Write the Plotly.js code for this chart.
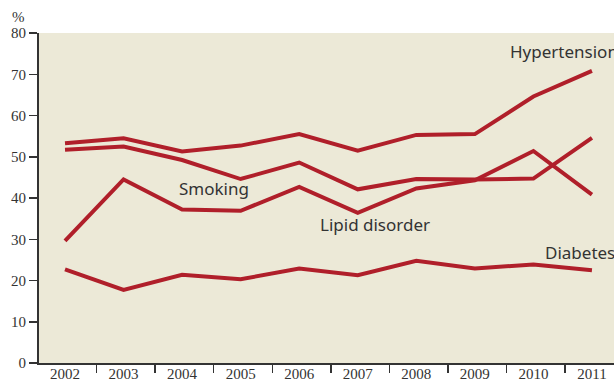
<!DOCTYPE html>
<html>
<head>
<meta charset="utf-8">
<script src="https://cdn.plot.ly/plotly-3.0.1.min.js"></script>
<style>html,body{margin:0;padding:0;background:#fff;}#chart{width:614px;height:382px;}</style>
</head>
<body>
<div id="chart"></div>
<script>
const years = [2002, 2003, 2004, 2005, 2006, 2007, 2008, 2009, 2010, 2011];
const hypertension = [53.3, 54.5, 51.3, 52.7, 55.5, 51.5, 55.3, 55.5, 64.6, 70.8];
const smoking = [51.7, 52.5, 49.2, 44.6, 48.6, 42.1, 44.6, 44.5, 44.7, 54.6];
const lipidDisorder = [29.6, 44.5, 37.2, 36.9, 42.7, 36.4, 42.3, 44.3, 51.4, 40.8];
const diabetes = [22.7, 17.7, 21.4, 20.3, 22.9, 21.3, 24.8, 22.9, 23.9, 22.5];
const seriesNames = ['Hypertension', 'Smoking', 'Lipid disorder', 'Diabetes'];
const yTicks = [0, 10, 20, 30, 40, 50, 60, 70, 80];

const lineColor = '#b01f2a';
const seriesData = [hypertension, smoking, lipidDisorder, diabetes];
const traces = seriesData.map((vals, i) => ({
  x: years, y: vals, type: 'scatter', mode: 'lines', name: seriesNames[i],
  line: {color: lineColor, width: 4}, hoverinfo: 'skip'
}));

// label positions (data coordinates)
const labelPos = [
  {x: 2009.57, y: 75.4},
  {x: 2003.92, y: 42.2},
  {x: 2006.32, y: 33.5},
  {x: 2010.16, y: 26.9}
];
const annotations = seriesNames.map((n, i) => ({
  x: labelPos[i].x, y: labelPos[i].y, xref: 'x', yref: 'y', text: n,
  showarrow: false, xanchor: 'left', yanchor: 'middle',
  font: {family: 'Noto Sans', size: 17, color: '#333'}
}));
annotations.push({
  x: (18 - 39) / 575, y: 1 + (33 - 17) / 330, xref: 'x domain', yref: 'y domain',
  text: '%', showarrow: false, xanchor: 'center', yanchor: 'middle',
  font: {family: 'Liberation Sans Narrow', size: 15, color: '#333'}
});

const layout = {
  width: 614, height: 382,
  margin: {l: 39, r: 0, t: 33, b: 19},
  paper_bgcolor: '#ffffff',
  plot_bgcolor: '#ece9d7',
  showlegend: false,
  font: {family: 'Liberation Sans Narrow', size: 15, color: '#333'},
  xaxis: {
    type: 'linear',
    range: [2002 - 26 / 58.55, 2002 + (614 - 65) / 58.55],
    tickvals: years, ticktext: years.map(String),
    ticks: '', showgrid: false, zeroline: false,
    showline: true, linecolor: '#333', linewidth: 2,
    ticklabelstandoff: -4,
    tickfont: {family: 'Liberation Sans Narrow', size: 15, color: '#333'},
    minor: {tickvals: years.map(y => y - 0.46), ticks: 'outside', ticklen: 8, tickwidth: 1.5, tickcolor: '#333', showgrid: false}
  },
  yaxis: {
    range: [0, 80], tickvals: yTicks, ticks: 'outside', ticklen: 8, tickwidth: 1.5, tickcolor: '#333',
    showgrid: false, zeroline: false, showline: true, linecolor: '#333', linewidth: 2,
    tickfont: {family: 'Liberation Sans Narrow', size: 15, color: '#333'}
  },
  annotations: annotations
};

Plotly.newPlot('chart', traces, layout, {staticPlot: true, displayModeBar: false});
</script>
</body>
</html>
